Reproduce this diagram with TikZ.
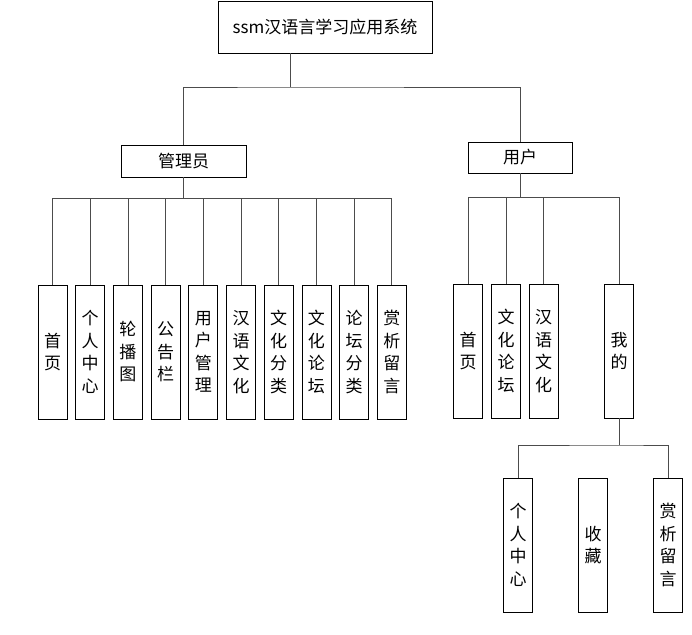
\documentclass[tikz,border=0pt]{standalone}
\usepackage{fontspec}
\newfontfamily\cjk{Noto Sans CJK SC}
\tikzset{
  box/.style={draw, line width=0.8pt, inner sep=0pt, font=\cjk\fontsize{17}{22.5}\selectfont},
  leaf/.style={box, minimum width=29pt, minimum height=134pt, align=center},
  link/.style={draw=black!70, line width=0.8pt}
}
\begin{document}
\begin{tikzpicture}[x=1pt,y=-1pt]
\useasboundingbox (0,0) rectangle (692,634);

\node[box, minimum width=214pt, minimum height=52pt] (root) at (325,27) {ssm汉语言学习应用系统};
\node[box, minimum width=125pt, minimum height=32pt] (admin) at (183.5,161) {管理员};
\node[box, minimum width=104pt, minimum height=31pt] (user) at (520,157.5) {用户};

\coordinate (rj) at (290,87);
\draw[link] (root.south -| rj) -- (rj);
\draw[link] (admin.north) |- (rj) -| (user.north);

% admin
\foreach \txt [count=\i] in {首\\页, 个\\人\\中\\心, 轮\\播\\图, 公\\告\\栏, 用\\户\\管\\理, 汉\\语\\文\\化, 文\\化\\分\\类, 文\\化\\论\\坛, 论\\坛\\分\\类, 赏\\析\\留\\言}
  \node[leaf] (a\i) at ({52.5+37.7*(\i-1)},352) {\txt};

\coordinate (aj) at (183.5,198);
\draw[link] (admin.south) -- (aj);
\foreach \i in {1,...,10}
  \draw[link] (aj) -| (a\i.north);

% user
\foreach \txt/\x [count=\i] in {首\\页/468, 文\\化\\论\\坛/506, 汉\\语\\文\\化/543.5, 我\\的/619}
  \node[leaf] (u\i) at (\x,351) {\txt};

\coordinate (uj) at (520,197);
\draw[link] (user.south) -- (uj);
\foreach \i in {1,...,4}
  \draw[link] (uj) -| (u\i.north);

% my
\node[leaf] (m1) at (518,545) {个\\人\\中\\心};
\node[leaf] (m2) at (593,545) {收\\藏};
\node[leaf] (m3) at (668,545) {赏\\析\\留\\言};

\coordinate (mj) at (619,445);
\draw[link] (u4.south) -- (mj);
\draw[link] (m1.north) |- (mj) -| (m3.north);

\end{tikzpicture}
\end{document}
